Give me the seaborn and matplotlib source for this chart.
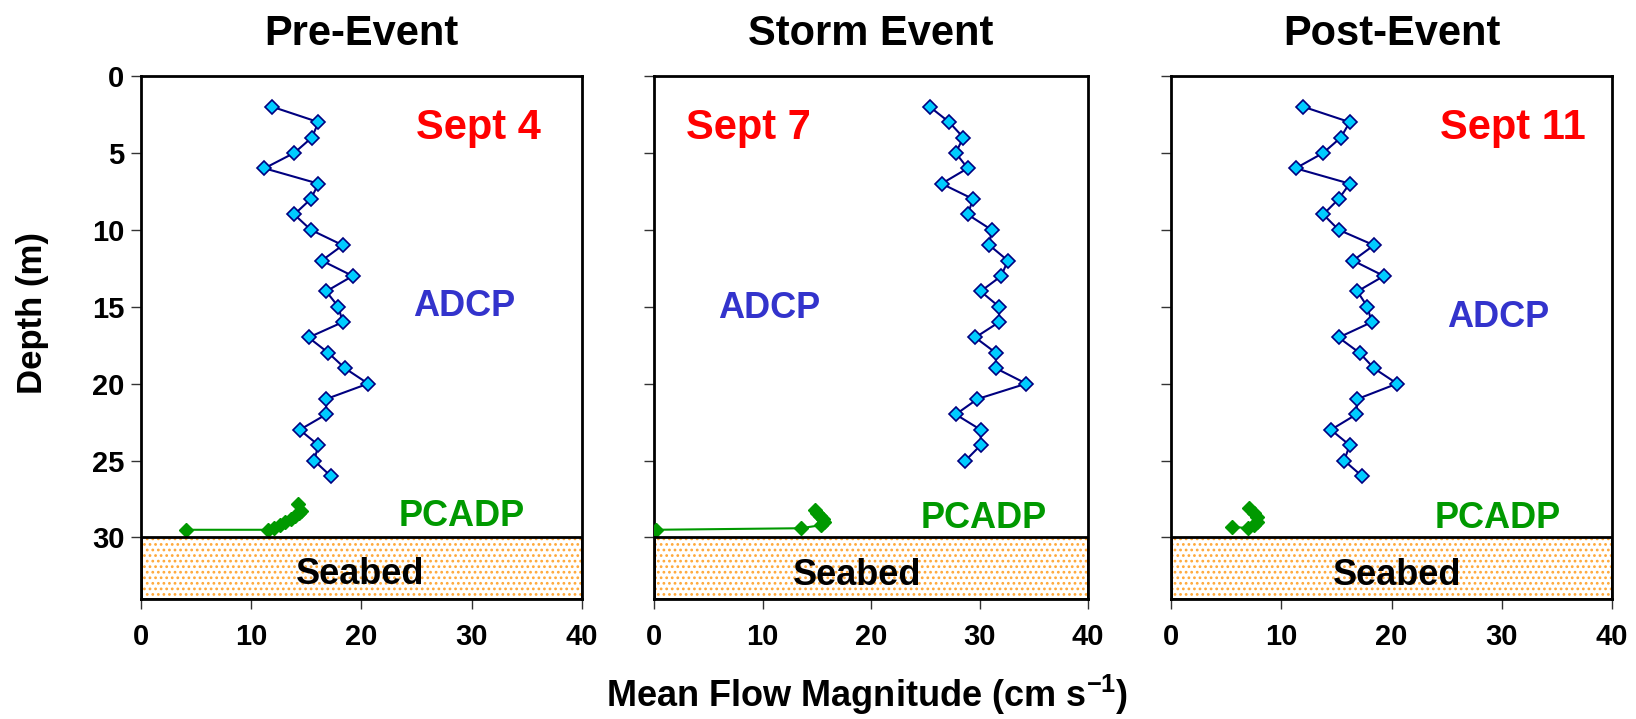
import matplotlib
matplotlib.use("Agg")
import matplotlib.pyplot as plt
import seaborn as sns
import pandas as pd

# ---------------- data ----------------
panel_titles = ["Pre-Event", "Storm Event", "Post-Event"]
date_labels = ["Sept 4", "Sept 7", "Sept 11"]

adcp_depth_pre = [2, 3, 4, 5, 6, 7, 8, 9, 10, 11, 12, 13, 14, 15, 16, 17, 18, 19, 20, 21, 22, 23, 24, 25, 26]
adcp_speed_pre = [11.9, 16.1, 15.5, 13.9, 11.2, 16.1, 15.4, 13.9, 15.4, 18.3, 16.4, 19.2, 16.8,
                  17.9, 18.3, 15.2, 17.0, 18.5, 20.6, 16.8, 16.8, 14.4, 16.1, 15.7, 17.2]

adcp_depth_storm = [2, 3, 4, 5, 6, 7, 8, 9, 10, 11, 12, 13, 14, 15, 16, 17, 18, 19, 20, 21, 22, 23, 24, 25]
adcp_speed_storm = [25.4, 27.2, 28.5, 27.8, 28.9, 26.5, 29.4, 28.9, 31.1, 30.9, 32.6, 32.0, 30.1,
                    31.8, 31.8, 29.6, 31.5, 31.5, 34.3, 29.8, 27.8, 30.1, 30.1, 28.7]

adcp_depth_post = [2, 3, 4, 5, 6, 7, 8, 9, 10, 11, 12, 13, 14, 15, 16, 17, 18, 19, 20, 21, 22, 23, 24, 25, 26]
adcp_speed_post = [12.0, 16.2, 15.4, 13.8, 11.3, 16.2, 15.2, 13.8, 15.2, 18.4, 16.5, 19.3, 16.9,
                   17.8, 18.2, 15.2, 17.1, 18.4, 20.5, 16.9, 16.8, 14.5, 16.2, 15.7, 17.3]

pcadp_depth_pre = [29.5, 29.5, 29.4, 29.2, 29.0, 28.8, 28.6, 28.4, 28.3, 27.8]
pcadp_speed_pre = [4.1, 11.5, 12.1, 12.6, 13.1, 13.6, 14.0, 14.3, 14.5, 14.2]

pcadp_depth_storm = [29.5, 29.4, 29.2, 29.0, 28.8, 28.6, 28.4, 28.2]
pcadp_speed_storm = [0.2, 13.5, 15.4, 15.7, 15.6, 15.3, 15.0, 14.8]

pcadp_depth_post = [29.3, 29.4, 29.2, 29.0, 28.7, 28.4, 28.1]
pcadp_speed_post = [5.5, 7.0, 7.5, 7.8, 7.8, 7.5, 7.1]

seabed_top = 30
depth_max = 34
x_max = 40
x_ticks = [0, 10, 20, 30, 40]
y_ticks = [0, 5, 10, 15, 20, 25, 30]

# ---------------- style ----------------
sns.set_style("white")
plt.rcParams["font.family"] = ["Liberation Sans", "DejaVu Sans"]
plt.rcParams["font.weight"] = "bold"
plt.rcParams["text.color"] = "black"
plt.rcParams["axes.labelcolor"] = "black"
plt.rcParams["xtick.color"] = "black"
plt.rcParams["ytick.color"] = "black"
plt.rcParams["mathtext.fontset"] = "custom"
plt.rcParams["mathtext.rm"] = "Liberation Sans:bold"
plt.rcParams["mathtext.bf"] = "Liberation Sans:bold"
plt.rcParams["mathtext.default"] = "bf"
plt.rcParams["hatch.linewidth"] = 1.2

NAVY = "#000080"
CYAN = "#00CCFF"
GREEN = "#009900"
LBLUE = "#3333CC"
RED = "#FF0000"

adcp_sets = [(adcp_speed_pre, adcp_depth_pre), (adcp_speed_storm, adcp_depth_storm),
             (adcp_speed_post, adcp_depth_post)]
pcadp_sets = [(pcadp_speed_pre, pcadp_depth_pre), (pcadp_speed_storm, pcadp_depth_storm),
              (pcadp_speed_post, pcadp_depth_post)]

# label positions (x, depth baseline)
date_pos = [(30.6, 4.1), (8.7, 4.1), (31.0, 4.1)]
adcp_pos = [(29.3, 15.6), (10.6, 15.7), (29.7, 16.3)]
pcadp_pos = [(29.1, 29.25), (30.4, 29.4), (29.6, 29.4)]
seabed_pos = [(19.9, 33.0), (18.75, 33.1), (20.5, 33.1)]

fig = plt.figure(figsize=(16.36, 7.19), dpi=100)
positions = [[0.0862, 0.1669, 0.2695, 0.7274],
             [0.3998, 0.1669, 0.2653, 0.7274],
             [0.7158, 0.1669, 0.2696, 0.7274]]

for i in range(3):
    ax = fig.add_axes(positions[i])
    sx, sy = adcp_sets[i]
    dfa = pd.DataFrame({"speed": sx, "depth": sy})
    sns.lineplot(data=dfa, x="speed", y="depth", sort=False, estimator=None, ax=ax,
                 color=NAVY, lw=1.5, marker="D", markersize=7.5, markerfacecolor=CYAN,
                 markeredgecolor=NAVY, markeredgewidth=1.2, zorder=4)
    px, py = pcadp_sets[i]
    dfp = pd.DataFrame({"speed": px, "depth": py})
    sns.lineplot(data=dfp, x="speed", y="depth", sort=False, estimator=None, ax=ax,
                 color=GREEN, lw=1.5, marker="D", markersize=7.5, markerfacecolor=GREEN,
                 markeredgecolor=GREEN, markeredgewidth=1, zorder=4)

    # seabed
    ax.axhspan(seabed_top, depth_max, facecolor="white", edgecolor="#FFA838",
               hatch="...", lw=0, zorder=1)
    ax.axhspan(seabed_top, depth_max, facecolor="none", edgecolor="black", lw=2, zorder=5)

    ax.set_xlim(0, x_max)
    ax.set_ylim(depth_max, 0)
    ax.set_xticks(x_ticks)
    ax.set_yticks(y_ticks)
    ax.set_xlabel("")
    ax.set_ylabel("")
    ax.tick_params(axis="both", direction="out", length=7, width=1, color="#333333",
                   labelcolor="black", labelsize=21, bottom=True, left=True,
                   top=False, right=False)
    ax.tick_params(axis="x", pad=10)
    ax.tick_params(axis="y", pad=5)
    if i > 0:
        ax.set_yticklabels([])
    for lab in ax.get_xticklabels() + ax.get_yticklabels():
        lab.set_fontweight("bold")
    for sp in ax.spines.values():
        sp.set_color("black")
        sp.set_linewidth(2)
    ax.grid(False)

    ax.set_title(panel_titles[i], fontsize=30, fontweight="bold", pad=22, color="black")

    ax.text(*date_pos[i], date_labels[i], color=RED, fontsize=30, fontweight="bold",
            ha="center", va="baseline", zorder=6)
    ax.text(*adcp_pos[i], "ADCP", color=LBLUE, fontsize=26, fontweight="bold",
            ha="center", va="baseline", zorder=6)
    ax.text(*pcadp_pos[i], "PCADP", color=GREEN, fontsize=26, fontweight="bold",
            ha="center", va="baseline", zorder=6)
    ax.text(*seabed_pos[i], "Seabed", color="black", fontsize=26, fontweight="bold",
            ha="center", va="baseline", zorder=6)

fig.text(0.0196, 1 - 313 / 719, "Depth (m)", rotation=90, fontsize=25, fontweight="bold",
         ha="center", va="center", color="black")
fig.text(0.530, 1 - 707 / 719, r"Mean Flow Magnitude (cm s$^{-1}$)", fontsize=26,
         fontweight="bold", ha="center", va="baseline", color="black")

fig.savefig("out.png", dpi=100)
